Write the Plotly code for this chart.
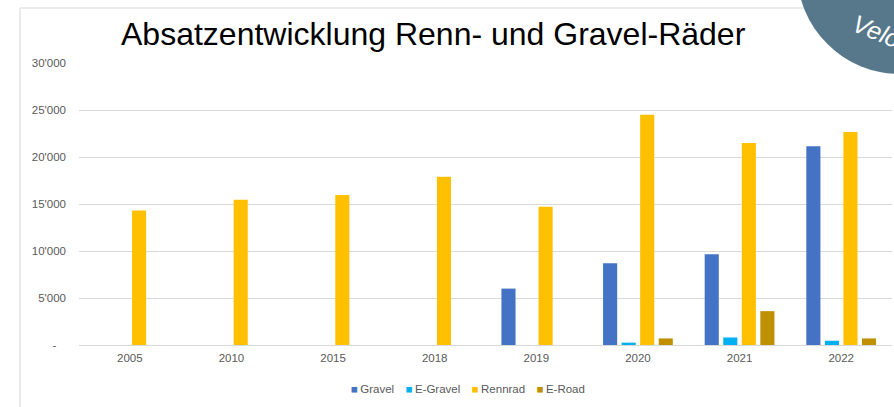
import plotly.graph_objects as go

categories = ["2005", "2010", "2015", "2018", "2019", "2020", "2021", "2022"]
gravel = [None, None, None, None, 6000, 8700, 9650, 21150]
e_gravel = [None, None, None, None, None, 250, 800, 450]
rennrad = [14300, 15450, 15950, 17900, 14700, 24500, 21500, 22650]
e_road = [None, None, None, None, None, 700, 3600, 700]

series_names = ["Gravel", "E-Gravel", "Rennrad", "E-Road"]
series_values = [gravel, e_gravel, rennrad, e_road]
series_colors = ["#4472C4", "#00B0F0", "#FFC000", "#BF9000"]

y_tickvals = [0, 5000, 10000, 15000, 20000, 25000, 30000]
y_ticktext = ["-\u00a0\u00a0\u00a0", "5'000", "10'000", "15'000", "20'000", "25'000", "30'000"]

title_text = "Absatzentwicklung Renn- und Gravel-Räder"
badge_text = "Velo"

W, H = 894, 407
L, R, T, B = 79, 2, 63, 62
pw, ph = W - L - R, H - T - B


def px(x):
    return (x - L) / pw


def py(y):
    return (H - B - y) / ph


fig = go.Figure()
for name, vals, col in zip(series_names, series_values, series_colors):
    fig.add_trace(go.Bar(x=categories, y=vals, name=name, marker_color=col,
                         marker_line_width=0, showlegend=False))

font_family = "Liberation Sans, Arial, sans-serif"

fig.update_layout(
    width=W, height=H,
    margin=dict(l=L, r=R, t=T, b=B, pad=0),
    paper_bgcolor="white", plot_bgcolor="white",
    barmode="group", bargap=0.27, bargroupgap=0.24,
    font=dict(family=font_family, color="#595959", size=11),
    showlegend=False,
    xaxis=dict(type="category", showgrid=False, showline=False, ticks="",
               tickfont=dict(size=11.5, color="#595959"), ticklabelstandoff=4),
    yaxis=dict(range=[0, 30000], tickvals=y_tickvals, ticktext=y_ticktext,
               showgrid=True, gridcolor="#D9D9D9", gridwidth=1,
               zeroline=True, zerolinecolor="#D9D9D9", zerolinewidth=1,
               showline=False, ticks="", ticklabelstandoff=12,
               tickfont=dict(size=11.5, color="#595959")),
)

# legend (built from the series names and colours)
legend_html = "\u2003".join(
    f"<span style='color:{c}'>\u25A0</span>\u2009{n}" for n, c in zip(series_names, series_colors)
)
fig.add_annotation(text=legend_html, xref="paper", yref="paper", x=px(468), y=py(389),
                   xanchor="center", yanchor="middle", showarrow=False,
                   font=dict(family=font_family, size=11.5, color="#595959"))

# frame lines
fig.add_shape(type="line", xref="paper", yref="paper", x0=px(20), x1=px(20), y0=py(8), y1=py(407),
              line=dict(color="#E3E3E3", width=1.5), layer="below")
fig.add_shape(type="line", xref="paper", yref="paper", x0=px(20), x1=px(894), y0=py(8), y1=py(8),
              line=dict(color="#E3E3E3", width=1.5), layer="below")

# corner badge
fig.add_shape(type="circle", xref="paper", yref="paper", x0=px(797), x1=px(1003), y0=py(74), y1=py(-132),
              fillcolor="#57788A", line=dict(width=0), layer="above")

fig.add_annotation(text=f"<i>{badge_text}</i>", xref="paper", yref="paper", x=px(846), y=py(31),
                   xanchor="left", yanchor="middle", showarrow=False, textangle=22,
                   font=dict(family=font_family, size=25, color="white"))

fig.add_annotation(text=title_text, xref="paper", yref="paper", x=px(433), y=py(34),
                   xanchor="center", yanchor="middle", showarrow=False,
                   font=dict(family=font_family, size=32, color="#000000"))

fig.write_html("out.html", config={"displayModeBar": False},
               post_script="document.body.style.margin='0px';document.body.style.padding='0px';")
